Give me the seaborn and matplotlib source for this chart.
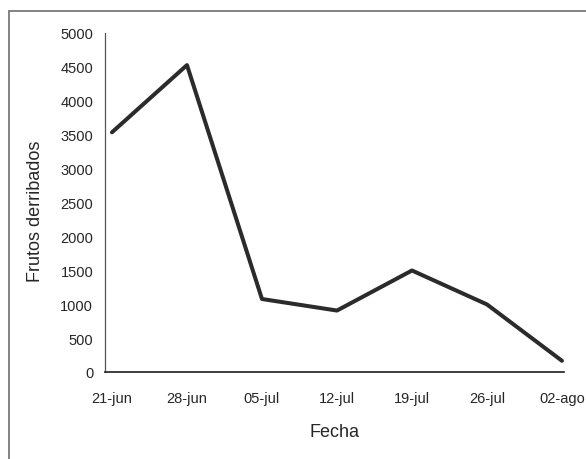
import matplotlib
matplotlib.use("Agg")
import matplotlib.pyplot as plt
from matplotlib.lines import Line2D
import seaborn as sns
import pandas as pd

fechas = ["21-jun", "28-jun", "05-jul", "12-jul", "19-jul", "26-jul", "02-ago"]
frutos = [3530, 4520, 1075, 905, 1495, 995, 165]
y_ticks = [0, 500, 1000, 1500, 2000, 2500, 3000, 3500, 4000, 4500, 5000]

df = pd.DataFrame({"Fecha": fechas, "Frutos derribados": frutos})

sns.set_theme(style="white")
plt.rcParams["font.family"] = ["Liberation Sans", "DejaVu Sans"]

fig = plt.figure(figsize=(5.86, 4.6), dpi=100)
ax = fig.add_axes([105/586, 1-373/460, (564-105)/586, (373-33.5)/460])

sns.lineplot(data=df, x="Fecha", y="Frutos derribados", ax=ax,
             color="#2b2b2b", linewidth=2.9, sort=False)

ax.set_xlim(-0.093, 6.027)
ax.set_ylim(0, 5000)
ax.set_yticks(y_ticks)
ax.set_yticklabels([str(v) for v in y_ticks])

ax.tick_params(axis="both", length=0, labelsize=10.5, colors="#262626")
ax.tick_params(axis="y", pad=8.5)
ax.tick_params(axis="x", pad=14)

ax.set_xlabel("Fecha", fontsize=13, color="#262626", labelpad=13)
ax.set_ylabel("Frutos derribados", fontsize=13, color="#262626", labelpad=12)
ax.yaxis.label.set_y(0.477)

for s in ["top", "right"]:
    ax.spines[s].set_visible(False)
ax.spines["left"].set_color("#555555")
ax.spines["left"].set_linewidth(0.9)
ax.spines["bottom"].set_color("#1e1e1e")
ax.spines["bottom"].set_linewidth(1.2)

# figure border (top and left edges visible)
bc = "#7a7a7a"
fig.add_artist(Line2D([9/586, 1.0], [1-12/460, 1-12/460], transform=fig.transFigure,
                      color=bc, linewidth=1.3))
fig.add_artist(Line2D([9/586, 9/586], [0.0, 1-12/460], transform=fig.transFigure,
                      color=bc, linewidth=1.3))

fig.savefig("out.png", dpi=100)
